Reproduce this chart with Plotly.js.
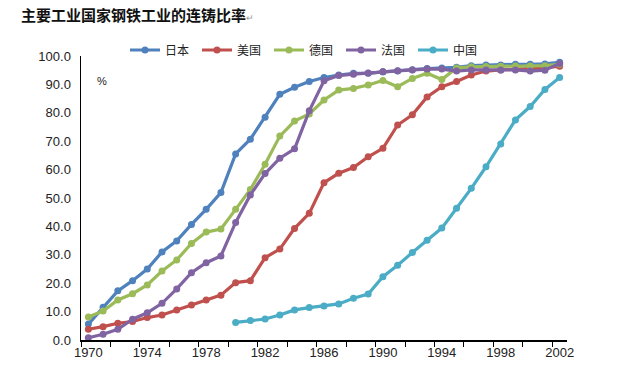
<!DOCTYPE html>
<html>
<head>
<meta charset="utf-8">
<script src="https://cdn.plot.ly/plotly-3.0.1.min.js"></script>
<style>html,body{margin:0;padding:0;background:#fff;}#chart{width:625px;height:370px;}</style>
</head>
<body>
<div id="chart"></div>
<script>
const years = [1970,1971,1972,1973,1974,1975,1976,1977,1978,1979,1980,1981,1982,1983,1984,1985,1986,1987,1988,1989,1990,1991,1992,1993,1994,1995,1996,1997,1998,1999,2000,2001,2002];
const japan = [5.6,11.5,17.3,20.9,25.0,31.0,34.9,40.7,46.0,51.9,65.5,70.7,78.4,86.5,89.0,91.0,92.4,93.3,93.9,93.9,94.4,94.7,95.2,95.6,95.8,96.0,96.6,96.8,96.8,97.1,97.1,97.2,97.8];
const usa = [3.8,4.7,5.9,6.5,7.9,8.8,10.6,12.3,14.1,15.8,20.2,20.9,29.0,32.0,39.3,44.6,55.4,58.7,60.7,64.5,67.5,75.7,79.3,85.6,89.2,91.0,93.3,94.7,95.1,95.3,95.5,95.8,96.4];
const germany = [8.1,10.2,14.1,16.3,19.4,24.3,28.2,34.0,38.0,39.1,46.0,53.0,61.9,71.8,77.1,79.6,84.5,88.0,88.6,89.8,91.4,89.2,92.1,93.9,91.7,95.8,96.2,96.3,96.4,96.5,96.5,96.6,97.1];
const france = [0.8,2.0,3.8,7.3,9.6,12.9,18.0,23.7,27.2,29.6,41.4,51.1,58.6,64.0,67.3,80.7,91.3,93.1,93.6,94.0,94.5,94.8,95.1,95.4,95.4,94.7,95.1,95.1,95.1,95.1,94.7,95.0,97.4];
const china = [null,null,null,null,null,null,null,null,null,null,6.2,6.9,7.4,8.8,10.6,11.4,12.0,12.7,14.7,16.2,22.3,26.3,30.8,35.1,39.4,46.4,53.4,61.0,69.0,77.5,82.2,88.2,92.4];
const seriesNames = ["日本","美国","德国","法国","中国"];
const yTickVals = [0,10,20,30,40,50,60,70,80,90,100];
const xLabelYears = [1970,1974,1978,1982,1986,1990,1994,1998,2002];

const colors = ["#4F81BD","#C0504D","#9BBB59","#8064A2","#4BACC6"];
const allData = [japan, usa, germany, france, china];

const traces = allData.map((vals, i) => ({
  type: 'scatter',
  mode: 'lines+markers',
  name: seriesNames[i],
  x: years,
  y: vals,
  connectgaps: false,
  line: {color: colors[i], width: 3.2},
  marker: {color: colors[i], size: 7, symbol: 'circle'}
}));

// minor tick positions at category boundaries every 2 categories
const minorTicks = [];
for (let k = 0; k <= years.length; k += 2) minorTicks.push(years[0] - 0.5 + k);

const layout = {
  width: 625,
  height: 370,
  margin: {l: 81, r: 58, t: 56, b: 30},
  paper_bgcolor: '#ffffff',
  plot_bgcolor: '#ffffff',
  font: {family: 'Liberation Sans, Arial, sans-serif', size: 13, color: '#222'},
  title: {
    text: '<b>主要工业国家钢铁工业的连铸比率</b><span style="font-size:9px;color:#999">↵</span>',
    font: {family: 'Noto Sans CJK SC, sans-serif', size: 15, color: '#111'},
    xref: 'container', yref: 'container',
    x: 21/625, xanchor: 'left',
    y: 1 - 16/370, yanchor: 'middle'
  },
  xaxis: {
    range: [years[0] - 0.5, years[years.length - 1] + 0.5],
    tickmode: 'array',
    tickvals: xLabelYears,
    ticktext: xLabelYears.map(String),
    ticks: '',
    showgrid: false,
    zeroline: false,
    showline: true,
    linecolor: '#000',
    linewidth: 1.5,
    tickfont: {family: 'Liberation Sans, Arial, sans-serif', size: 13, color: '#222'},
    minor: {tickmode: 'array', tickvals: minorTicks, ticks: 'outside', ticklen: 5, tickcolor: '#000', tickwidth: 1, showgrid: false},
    fixedrange: true
  },
  yaxis: {
    range: [0, 100],
    tickmode: 'array',
    tickvals: yTickVals,
    ticktext: yTickVals.map(v => v.toFixed(1)),
    ticks: '',
    showgrid: false,
    zeroline: false,
    showline: true,
    linecolor: '#000',
    linewidth: 1.5,
    ticklabelstandoff: 6,
    tickfont: {family: 'Liberation Sans, Arial, sans-serif', size: 13, color: '#222'},
    fixedrange: true
  },
  legend: {
    orientation: 'h',
    x: (125 - 81) / 486,
    xanchor: 'left',
    y: 1 + (56 - 50) / 284,
    yanchor: 'middle',
    entrywidth: 27,
    entrywidthmode: 'pixels',
    font: {family: 'Noto Sans CJK SC, sans-serif', size: 12, color: '#222'},
    bgcolor: 'rgba(0,0,0,0)',
    traceorder: 'normal'
  },
  showlegend: true,
  annotations: [{
    text: '%',
    xref: 'paper', yref: 'paper',
    x: (95 - 81) / 486, y: (340 - 73) / 284,
    showarrow: false,
    font: {family: 'Liberation Sans, Arial, sans-serif', size: 11, color: '#222'}
  }]
};

Plotly.newPlot('chart', traces, layout, {displayModeBar: false, staticPlot: true});
</script>
</body>
</html>
